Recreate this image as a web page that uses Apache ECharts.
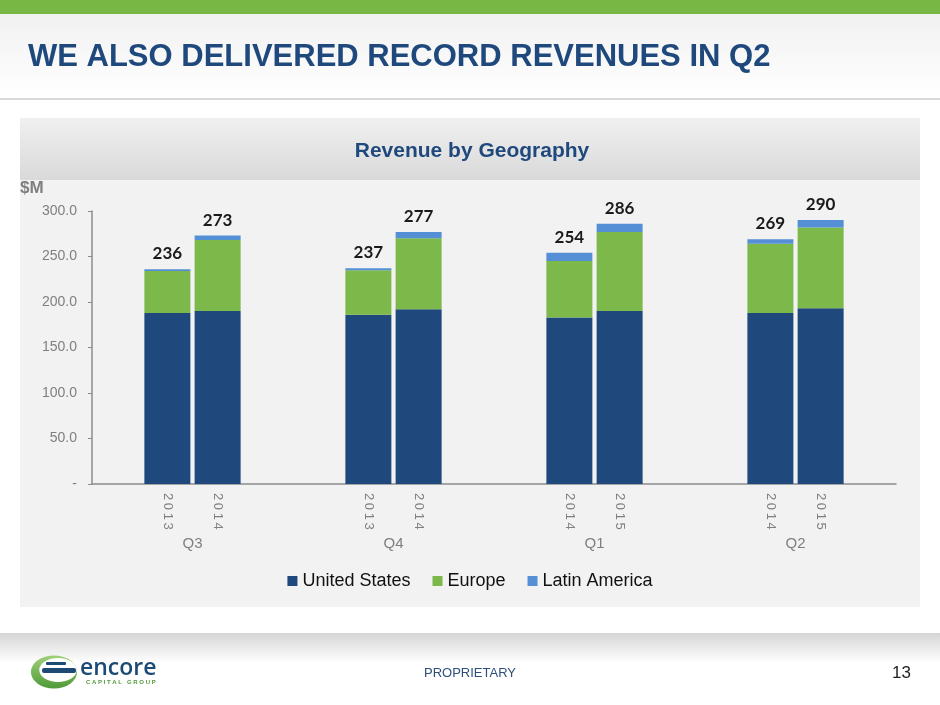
<!DOCTYPE html>
<html>
<head>
<meta charset="utf-8">
<script src="https://cdn.jsdelivr.net/npm/echarts@6/dist/echarts.min.js"></script>
<style>
html, body { margin: 0; padding: 0; background: #fff; }
#chart { width: 940px; height: 705px; }
</style>
</head>
<body>
<div id="chart"></div>
<script>
var quarters = ['Q3', 'Q4', 'Q1', 'Q2'];
var years = ['2013', '2014', '2013', '2014', '2014', '2015', '2014', '2015'];
var unitedStates = [188, 190, 186, 192, 183, 190, 188, 193];
var europe = [46, 78, 49, 78, 62, 87, 76, 89];
var latinAmerica = [2, 5, 2, 7, 9, 9, 5, 8];
var totals = [236, 273, 237, 277, 254, 286, 269, 290];
var yTicks = [0, 50, 100, 150, 200, 250, 300];

// each quarter gets 4 slots on the axis, its two bars sit in the middle two
function spread(arr, empty) {
  var out = [];
  for (var q = 0; q < quarters.length; q++) {
    out.push(empty, arr[q * 2], arr[q * 2 + 1], empty);
  }
  return out;
}

var yearSlots = spread(years, '');
var totalSlots = spread(totals, '');

var navy = '#1f487c';
var green = '#7cb84a';
var blue = '#5590d6';
var grey = '#7f7f7f';
var font = '"Liberation Sans", Arial, sans-serif';

var myChart = echarts.init(document.getElementById('chart'));
var option = {
  backgroundColor: '#fff',
  animation: false,
  textStyle: { fontFamily: font },
  graphic: [
    { type: 'rect', z: -10, silent: true, shape: { x: 0, y: 0, width: 940, height: 14 }, style: { fill: '#78b744' } },
    { type: 'rect', z: -10, silent: true, shape: { x: 0, y: 14, width: 940, height: 84 },
      style: { fill: new echarts.graphic.LinearGradient(0, 0, 0, 1, [{ offset: 0, color: '#f1f1f1' }, { offset: 1, color: '#ffffff' }]) } },
    { type: 'rect', z: -10, silent: true, shape: { x: 0, y: 98, width: 940, height: 2 }, style: { fill: '#d8d8d8' } },
    { type: 'rect', z: -10, silent: true, shape: { x: 0, y: 633, width: 940, height: 30 },
      style: { fill: new echarts.graphic.LinearGradient(0, 0, 0, 1, [{ offset: 0, color: '#d6d6d6' }, { offset: 1, color: '#ffffff' }]) } },
    { type: 'rect', z: -10, silent: true, shape: { x: 20, y: 118, width: 900, height: 489 }, style: { fill: '#f2f2f2' } },
    { type: 'rect', z: -9, silent: true, shape: { x: 20, y: 118, width: 900, height: 62 },
      style: { fill: new echarts.graphic.LinearGradient(0, 0, 0, 1, [{ offset: 0, color: '#f0f0f0' }, { offset: 1, color: '#d9d9d9' }]) } },
    { type: 'text', silent: true, x: 28, y: 57,
      style: { text: 'WE ALSO DELIVERED RECORD REVENUES IN Q2', fill: '#1f497d', font: 'bold 31px ' + font, textVerticalAlign: 'middle' } },
    { type: 'text', silent: true, x: 472, y: 151,
      style: { text: 'Revenue by Geography', fill: '#1f497d', font: 'bold 21px ' + font, textAlign: 'center', textVerticalAlign: 'middle' } },
    { type: 'text', silent: true, x: 20, y: 188,
      style: { text: '$M', fill: grey, font: 'bold 17px ' + font, textVerticalAlign: 'middle' } },
    { type: 'text', silent: true, x: 470, y: 673,
      style: { text: 'PROPRIETARY', fill: '#2d4f7c', font: '13px ' + font, textAlign: 'center', textVerticalAlign: 'middle' } },
    { type: 'text', silent: true, x: 911, y: 673,
      style: { text: '13', fill: '#222', font: '17px ' + font, textAlign: 'right', textVerticalAlign: 'middle' } },
    // logo
    { type: 'circle', silent: true, x: 54, y: 672, scaleX: 1.05, scaleY: 0.75, shape: { cx: 0, cy: 0, r: 22 },
      style: { fill: new echarts.graphic.LinearGradient(0, 0, 0, 1, [{ offset: 0, color: '#9fd07a' }, { offset: 1, color: '#4f9a37' }]) } },
    { type: 'circle', silent: true, x: 58, y: 670, scaleX: 1.1, scaleY: 0.7, shape: { cx: 0, cy: 0, r: 17 }, style: { fill: '#fff' } },
    { type: 'rect', silent: true, shape: { x: 42, y: 668, width: 34, height: 5, r: 2 }, style: { fill: '#1d4a75' } },
    { type: 'rect', silent: true, shape: { x: 46, y: 662, width: 20, height: 3, r: 1 }, style: { fill: '#1d4a75' } },
    { type: 'text', silent: true, x: 80, y: 668,
      style: { text: 'encore', fill: '#1d4a75', font: '600 23px "Open Sans", sans-serif', textVerticalAlign: 'middle' } },
    { type: 'text', silent: true, x: 86, y: 682,
      style: { text: 'C A P I T A L   G R O U P', fill: '#4f9a37', font: 'bold 6px ' + font, textVerticalAlign: 'middle' } }
  ],
  legend: {
    top: 567,
    left: 'center',
    icon: 'rect',
    itemWidth: 10,
    itemHeight: 10,
    itemGap: 22,
    textStyle: { fontSize: 18, color: '#111', fontFamily: font },
    data: ['United States', 'Europe', 'Latin America']
  },
  grid: { left: 92, right: 44, top: 211, bottom: 221, containLabel: false },
  xAxis: [
    {
      type: 'category',
      data: yearSlots,
      axisLine: { lineStyle: { color: '#8c8c8c', width: 1.5 } },
      axisTick: { show: false },
      axisLabel: {
        interval: 0, rotate: -90, margin: 9, fontSize: 13, color: grey,
        formatter: function (v) { return v.split('').join('\u2009'); }
      }
    },
    {
      type: 'category',
      data: quarters,
      position: 'bottom',
      offset: 50,
      axisLine: { show: false },
      axisTick: { show: false },
      axisLabel: { margin: 2, fontSize: 15, color: grey }
    }
  ],
  yAxis: {
    type: 'value',
    min: yTicks[0],
    max: yTicks[yTicks.length - 1],
    interval: yTicks[1] - yTicks[0],
    splitLine: { show: false },
    axisLine: { show: true, lineStyle: { color: '#8c8c8c', width: 1.5 } },
    axisTick: { show: true, length: 4, lineStyle: { color: '#8c8c8c' } },
    axisLabel: {
      fontSize: 14, color: grey, margin: 15,
      formatter: function (v) { return v === 0 ? '-' : v.toFixed(1); }
    }
  },
  series: [
    { name: 'United States', type: 'bar', stack: 'rev', barWidth: 46, data: spread(unitedStates, '-'), itemStyle: { color: navy } },
    { name: 'Europe', type: 'bar', stack: 'rev', barWidth: 46, data: spread(europe, '-'), itemStyle: { color: green } },
    {
      name: 'Latin America', type: 'bar', stack: 'rev', barWidth: 46, data: spread(latinAmerica, '-'), itemStyle: { color: blue },
      label: {
        show: true, position: 'top', distance: 7,
        fontFamily: 'Lato, "Open Sans", sans-serif', fontWeight: 'bold', fontSize: 17, color: '#1a1a1a',
        formatter: function (p) { return totalSlots[p.dataIndex]; }
      }
    }
  ]
};
window.addEventListener('resize', function () {
  myChart.resize();
});
myChart.setOption(option, true);
</script>
</body>
</html>
